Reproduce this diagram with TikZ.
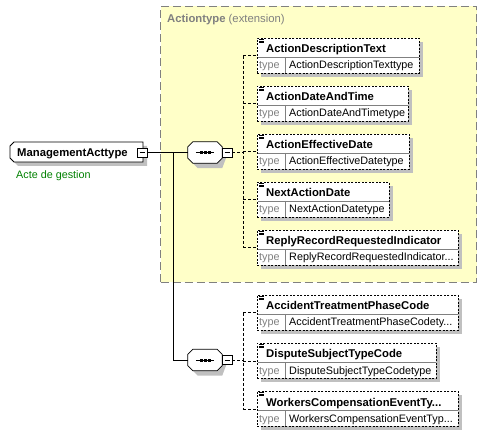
\documentclass[tikz,border=0pt]{standalone}
\usepackage{fontspec}
\setmainfont{Liberation Sans}
\usetikzlibrary{calc,shadows}
\definecolor{ylw}{RGB}{255,255,200}
\definecolor{shd}{RGB}{192,192,192}
\definecolor{gtxt}{RGB}{128,128,128}
\definecolor{grn}{RGB}{0,128,0}
\tikzset{
  elem/.style={draw, dash pattern=on 2pt off 1.5pt, line width=0.8pt, fill=white, minimum height=35pt, anchor=north west, inner sep=0pt,
    drop shadow={shadow xshift=4pt, shadow yshift=-4pt, fill=shd, opacity=1}},
  divline/.style={draw=gtxt, line width=0.6pt},
  iconline/.style={line width=0.6pt},
  titletext/.style={anchor=base west, inner sep=0pt, font=\fontsize{11.3}{13}\selectfont\bfseries},
  typelabel/.style={anchor=base west, inner sep=0pt, text=gtxt, font=\fontsize{10.8}{13}\selectfont},
  typetext/.style={anchor=base west, inner sep=0pt, font=\fontsize{10.8}{13}\selectfont},
  conn/.style={line width=0.8pt, dash pattern=on 3pt off 2pt},
  solidconn/.style={line width=1pt},
  minusbox/.style={draw, line width=0.8pt, fill=white, minimum width=10pt, minimum height=9pt, inner sep=0pt},
  seqbox/.style={minimum width=34pt, minimum height=21pt, inner sep=0pt},
}
\newcommand\xsdelem[6]{%
  \node[elem, minimum width=#4pt] (#1) at (#2,#3) {};
  \draw[divline] ($(#1.north west)+(0.5,19)$) -- ($(#1.north east)+(-0.5,19)$);
  \draw[divline] ($(#1.north west)+(28,19)$) -- ($(#1.south west)+(28,-0.5)$);
  \draw[iconline] ($(#1.north west)+(2,1.5)$) -- +(5,0)
                  ($(#1.north west)+(2,3)$) -- +(5,0)
                  ($(#1.north west)+(2,4.5)$) -- +(5,0);
  \node[titletext] (#1-t) at ($(#1.north west)+(9,15)$) {#5};
  \node[typelabel] (#1-k) at ($(#1.north west)+(2,31)$) {type};
  \node[typetext] (#1-v) at ($(#1.north west)+(32,31)$) {#6};
}
\newcommand\xsdseq[1]{%
  \fill[shd] ($(#1.north west)+(10,5)$) -- ($(#1.north east)+(0,5)$) -- ($(#1.east)+(5,2.5)$) -- ($(#1.south east)+(0,5)$)
    -- ($(#1.south west)+(10,5)$) -- ($(#1.south west)+(5,0)$) -- cycle;
  \draw[line width=0.8pt, fill=white] ($(#1.north west)+(5,0)$) -- ($(#1.north east)+(-5,0)$) -- ($(#1.north east)+(0,5)$)
    -- ($(#1.south east)+(0,-5)$) -- ($(#1.south east)+(-5,0)$) -- ($(#1.south west)+(5,0)$)
    -- ($(#1.south west)+(0,-5)$) -- ($(#1.north west)+(0,5)$) -- cycle;
  \draw[line width=1pt] ($(#1.west)+(8,0)$) -- ($(#1.east)+(-8,0)$);
  \fill ($(#1.center)+(-5.5,-1.5)$) rectangle +(3,3);
  \fill ($(#1.center)+(-1.5,-1.5)$) rectangle +(3,3);
  \fill ($(#1.center)+(2.5,-1.5)$) rectangle +(3,3);
}
\begin{document}
\begin{tikzpicture}[x=1pt,y=-1pt]
\useasboundingbox (0,0) rectangle (487,435);
% extension box
\node[draw=gtxt, fill=ylw, line width=1pt, dash pattern=on 8pt off 4pt, minimum width=316pt, minimum height=276pt, anchor=north west, inner sep=0pt] (ext) at (160,6) {};
\node[anchor=base west, inner sep=0pt, text=gtxt, font=\fontsize{11.3}{13}\selectfont] (extlbl) at (167,23) {\textbf{Actiontype} (extension)};

% root element
\coordinate (rtl) at (10,142);
\fill[shd] (18,146) -- (147,146) -- (147,166) -- (18,166) -- (14,162) -- cycle;
\draw[line width=0.8pt, fill=white] (14,142) -- (143,142) -- (143,162) -- (14,162) -- (10,158) -- (10,146) -- cycle;
\node[anchor=base west, inner sep=0pt, font=\fontsize{11.3}{13}\selectfont\bfseries] (root) at (17,156.5) {ManagementActtype};
\node[minusbox] (rm) at (142,152.5) {};
\draw[line width=0.8pt] (139.5,152.5) -- (144.5,152.5);
\node[anchor=base west, inner sep=0pt, text=grn, font=\fontsize{10.8}{13}\selectfont] (doc) at (16,179) {Acte de gestion};

% sequences
\node[seqbox] (s1) at (205,152.5) {};
\xsdseq{s1}
\node[minusbox] (m1) at (227,152.5) {};
\draw[line width=0.8pt] (224.5,152.5) -- (229.5,152.5);
\node[seqbox] (s2) at (205,360) {};
\xsdseq{s2}
\node[minusbox] (m2) at (227,360) {};
\draw[line width=0.8pt] (224.5,360) -- (229.5,360);

% main connectors
\coordinate (v) at (173,152.5);
\draw[solidconn] (rm.east) -- (s1.west);
\draw[solidconn] (v) |- (s2.west);

% elements group 1
\xsdelem{e1}{257}{38}{162}{ActionDescriptionText}{ActionDescriptionTexttype}
\xsdelem{e2}{257}{86}{151}{ActionDateAndTime}{ActionDateAndTimetype}
\xsdelem{e3}{257}{134}{152}{ActionEffectiveDate}{ActionEffectiveDatetype}
\xsdelem{e4}{257}{182}{132}{NextActionDate}{NextActionDatetype}
\xsdelem{e5}{257}{230}{201}{ReplyRecordRequestedIndicator}{ReplyRecordRequestedIndicator...}
% elements group 2
\xsdelem{f1}{257}{295}{201}{AccidentTreatmentPhaseCode}{AccidentTreatmentPhaseCodety...}
\xsdelem{f2}{257}{343}{179}{DisputeSubjectTypeCode}{DisputeSubjectTypeCodetype}
\xsdelem{f3}{257}{391}{201}{WorkersCompensationEventTy...}{WorkersCompensationEventTyp...}

% group 1 connectors
\coordinate (j1) at (243,152.5);
\draw[conn] (m1.east) -- (j1);
\draw[conn] (e1.west -| j1) -- (e5.west -| j1);
\foreach \e in {e1,e2,e3,e4,e5} { \draw[conn] (\e.west -| j1) -- (\e.west); }
% group 2 connectors
\coordinate (j2) at (243,360);
\draw[conn] (m2.east) -- (j2);
\draw[conn] (f1.west -| j2) -- (f3.west -| j2);
\foreach \e in {f1,f2,f3} { \draw[conn] (\e.west -| j2) -- (\e.west); }
\end{tikzpicture}
\end{document}
